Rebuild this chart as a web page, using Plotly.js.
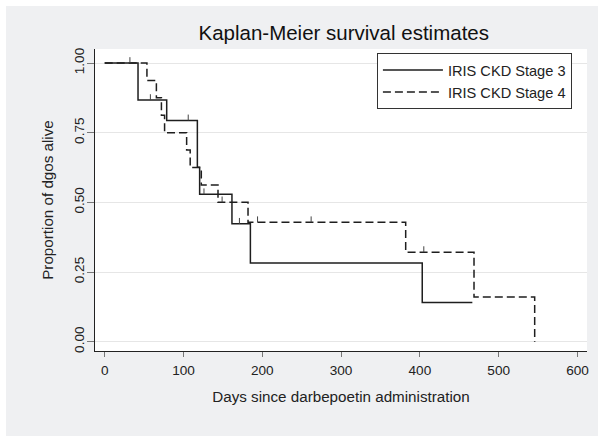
<!DOCTYPE html>
<html>
<head>
<meta charset="utf-8">
<script src="https://cdn.plot.ly/plotly-3.0.1.min.js"></script>
<style>
  html, body { margin: 0; padding: 0; background: #ffffff; }
  #chart { position: absolute; left: 6px; top: 6px; width: 592px; height: 430px; }
</style>
</head>
<body>
<div id="chart"></div>
<script>
// Kaplan-Meier step data (days, survival)
const stage3Days = [0, 42.3, 78.7, 117.6, 120.5, 161.5, 184.9, 403, 466.6];
const stage3Surv = [1.0, 0.867, 0.794, 0.626, 0.529, 0.423, 0.282, 0.141, 0.141];
const stage4Days = [0, 53.6, 65.6, 72, 76, 104, 108.5, 122.6, 143.8, 181.9, 382, 468.7, 545.7];
const stage4Surv = [1.0, 0.9375, 0.875, 0.8125, 0.75, 0.6875, 0.625, 0.5625, 0.5, 0.4286, 0.3214, 0.1607, 0.0];
// censored observations
const stage3CensDays = [32, 58, 106, 126, 171];
const stage3CensSurv = [1.0, 0.867, 0.794, 0.529, 0.423];
const stage4CensDays = [149, 194, 262, 405];
const stage4CensSurv = [0.5, 0.4286, 0.4286, 0.3214];
const seriesNames = ["IRIS CKD Stage 3", "IRIS CKD Stage 4"];
const yTickVals = [0, 0.25, 0.5, 0.75, 1];
const yTickText = ["0.00", "0.25", "0.50", "0.75", "1.00"];
const xTickVals = [0, 100, 200, 300, 400, 500, 600];

const tickH = 0.021;
function censorSegs(days, surv) {
  const x = [], y = [];
  days.forEach((d, i) => { x.push(d, d, null); y.push(surv[i], surv[i] + tickH, null); });
  return {x, y};
}
const c3 = censorSegs(stage3CensDays, stage3CensSurv);
const c4 = censorSegs(stage4CensDays, stage4CensSurv);
const lineColor = '#1e1e1e';

const traces = [
  {x: stage3Days, y: stage3Surv, type: 'scatter', mode: 'lines', name: seriesNames[0],
   line: {shape: 'hv', color: lineColor, width: 1.5}},
  {x: stage4Days, y: stage4Surv, type: 'scatter', mode: 'lines', name: seriesNames[1],
   line: {shape: 'hv', color: lineColor, width: 1.5, dash: '8px,4px'}},
  {x: c3.x, y: c3.y, type: 'scatter', mode: 'lines', showlegend: false, hoverinfo: 'skip',
   line: {color: '#444', width: 1}},
  {x: c4.x, y: c4.y, type: 'scatter', mode: 'lines', showlegend: false, hoverinfo: 'skip',
   line: {color: '#444', width: 1}}
];

const layout = {
  width: 592, height: 430,
  paper_bgcolor: '#eff0f2', plot_bgcolor: '#ffffff',
  margin: {l: 89, r: 11, t: 43, b: 85},
  font: {family: 'Liberation Sans, Arial, sans-serif', color: '#111'},
  title: {text: 'Kaplan-Meier survival estimates', font: {size: 20.5, color: '#111'},
          x: 0.5705, xref: 'container', xanchor: 'center', y: 0.937, yref: 'container', yanchor: 'middle'},
  xaxis: {
    range: [-12.3, 612.1], tickvals: xTickVals, ticks: 'outside', ticklen: 5, tickcolor: '#777', tickwidth: 1,
    showgrid: false, zeroline: false, showline: true, linecolor: '#222', linewidth: 1,
    tickfont: {size: 13.6, color: '#222'}, ticklabelstandoff: 2,
    title: {text: 'Days since darbepoetin administration', font: {size: 15.2, color: '#222'}, standoff: 14}
  },
  yaxis: {
    range: [-0.0334, 1.0503], tickvals: yTickVals, ticktext: yTickText, tickangle: -90,
    ticks: 'outside', ticklen: 7, tickcolor: '#777', tickwidth: 1,
    showgrid: true, gridcolor: '#e6e6e6', gridwidth: 1, zeroline: false,
    showline: true, linecolor: '#222', linewidth: 1,
    tickfont: {size: 13.6, color: '#222'}, ticklabelstandoff: -2,
    title: {text: 'Proportion of dgos alive', font: {size: 15.2, color: '#222'}, standoff: 14}
  },
  legend: {x: 0.573, y: 0.987, xanchor: 'left', yanchor: 'top', bgcolor: '#ffffff',
           bordercolor: '#333', borderwidth: 1, font: {size: 14.6, color: '#222'}, itemwidth: 60,
           tracegroupgap: 0},
  showlegend: true
};

Plotly.newPlot('chart', traces, layout, {displayModeBar: false, staticPlot: true});
</script>
</body>
</html>
